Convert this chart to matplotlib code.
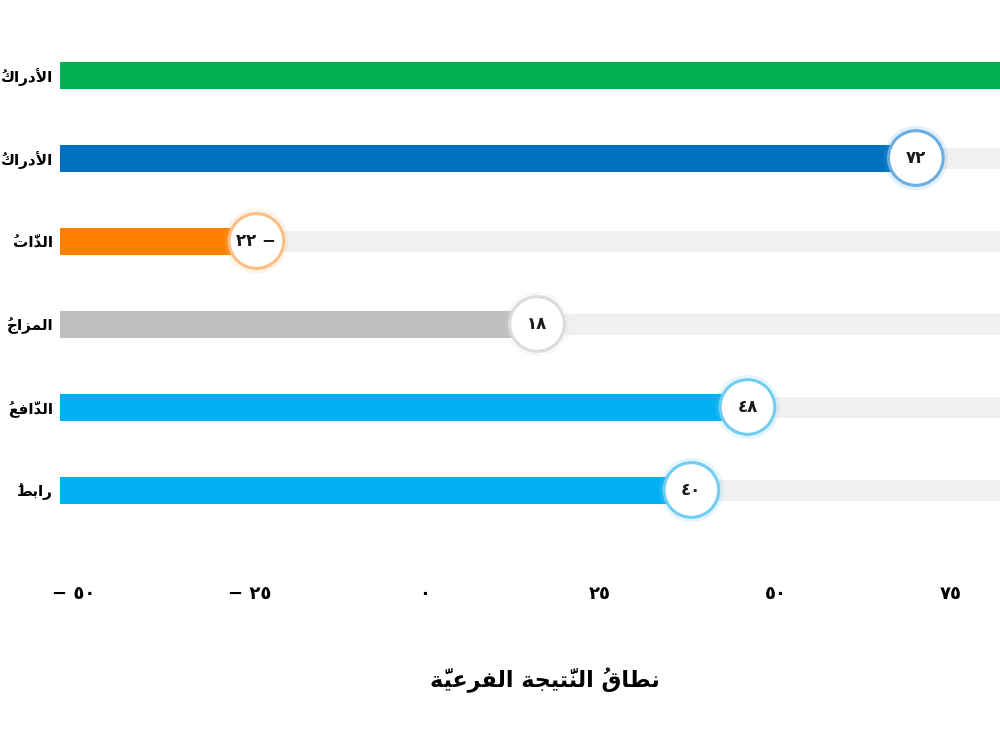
import matplotlib
matplotlib.use('Agg')
import matplotlib.pyplot as plt
import matplotlib.transforms as mtransforms

plt.rcParams['font.family'] = ['DejaVu Sans']

# data (top row first) - only the part of each label that shows in the picture
categories = ['الأدراكُ', 'الأدراكُ', 'الذَّاتُ', 'المزاجُ', 'الدَّافعُ', 'رابطُ']
scores = [100, 72, -22, 18, 48, 40]
bar_colors = ['#00b050', '#0070c0', '#ff8000', '#bfbfbf', '#00b0f0', '#00b0f0']
ring_colors = ['#7fd39f', '#6aaee4', '#fbbf85', '#dcdcdc', '#73cdf3', '#73cdf3']
xticks = [-50, -25, 0, 25, 50, 75]
x_title = 'نطاقُ النَّتيجة الفرعيَّة'
range_min, range_max = -50, 100
view_max = 84

# --- minimal arabic shaping (matplotlib has no bidi / joining) ---
LETTERS = {0x0621: (0xFE80, 1), 0x0622: (0xFE81, 2), 0x0623: (0xFE83, 2), 0x0624: (0xFE85, 2),
           0x0625: (0xFE87, 2), 0x0626: (0xFE89, 4), 0x0627: (0xFE8D, 2), 0x0628: (0xFE8F, 4),
           0x0629: (0xFE93, 2), 0x062A: (0xFE95, 4), 0x062B: (0xFE99, 4), 0x062C: (0xFE9D, 4),
           0x062D: (0xFEA1, 4), 0x062E: (0xFEA5, 4), 0x062F: (0xFEA9, 2), 0x0630: (0xFEAB, 2),
           0x0631: (0xFEAD, 2), 0x0632: (0xFEAF, 2), 0x0633: (0xFEB1, 4), 0x0634: (0xFEB5, 4),
           0x0635: (0xFEB9, 4), 0x0636: (0xFEBD, 4), 0x0637: (0xFEC1, 4), 0x0638: (0xFEC5, 4),
           0x0639: (0xFEC9, 4), 0x063A: (0xFECD, 4), 0x0641: (0xFED1, 4), 0x0642: (0xFED5, 4),
           0x0643: (0xFED9, 4), 0x0644: (0xFEDD, 4), 0x0645: (0xFEE1, 4), 0x0646: (0xFEE5, 4),
           0x0647: (0xFEE9, 4), 0x0648: (0xFEED, 2), 0x0649: (0xFEEF, 2), 0x064A: (0xFEF1, 4)}
LAMALEF = {0x0622: 0xFEF5, 0x0623: 0xFEF7, 0x0625: 0xFEF9, 0x0627: 0xFEFB}


def is_mark(c):
    return 0x064B <= ord(c) <= 0x065F or ord(c) == 0x0670


def nforms(b):
    if isinstance(b, int):
        return 2
    return LETTERS.get(ord(b), (0, 0))[1]


def shape(text):
    clusters = []
    for ch in text:
        if is_mark(ch) and clusters:
            clusters[-1][1].append(ch)
        else:
            clusters.append([ch, []])
    merged = []
    i = 0
    while i < len(clusters):
        b, m = clusters[i]
        if b == 'ل' and i + 1 < len(clusters) and ord(clusters[i + 1][0]) in LAMALEF:
            merged.append([LAMALEF[ord(clusters[i + 1][0])], m + clusters[i + 1][1]])
            i += 2
        else:
            merged.append([b, m])
            i += 1
    out = []
    for i, (b, m) in enumerate(merged):
        n = nforms(b)
        prev_n = nforms(merged[i - 1][0]) if i > 0 else 0
        next_n = nforms(merged[i + 1][0]) if i + 1 < len(merged) else 0
        jp = prev_n == 4 and n > 0
        jn = n == 4 and next_n > 0
        if isinstance(b, int):
            g = chr(b + (1 if jp else 0))
        elif n == 0:
            g = b
        else:
            base = LETTERS[ord(b)][0]
            if jp and jn:
                k = 3
            elif jp:
                k = 1
            elif jn:
                k = 2
            else:
                k = 0
            g = chr(base + min(k, n - 1))
        # zero-width marks go first so they sit over their own letter
        out.append(''.join(m) + g)
    return ''.join(reversed(out))


def ar_num(v):
    return str(abs(v)).translate(str.maketrans('0123456789', '٠١٢٣٤٥٦٧٨٩'))


fig = plt.figure(figsize=(10, 7.5), dpi=100)
ax = fig.add_axes([0.06, 0.24, 0.94, 550 / 750])

rows = list(range(len(categories)))

# grey tracks
ax.barh(rows, [range_max - range_min] * len(rows), left=range_min, height=0.21,
        color='#f0f0f0', edgecolor='#f0f0f0', linewidth=2.2, joinstyle='round', zorder=1)
# score bars
ax.barh(rows, [s - range_min for s in scores], left=range_min, height=0.28,
        color=bar_colors, edgecolor=bar_colors, linewidth=2.2, joinstyle='round', zorder=2)

# value bubbles
ax.scatter(scores, rows, s=2150, color=ring_colors, alpha=0.18, linewidths=0, zorder=3)
ax.scatter(scores, rows, s=1550, facecolor='white', edgecolor=ring_colors, linewidths=2.2, zorder=4)
for s, r in zip(scores, rows):
    if s > view_max:
        continue  # bubble lies outside the visible range
    lbl = ar_num(s) + (' \u2212' if s < 0 else '')
    ax.text(s, r, lbl, ha='center', va='center', fontsize=12, fontweight='bold',
            color='#1a1a1a', zorder=5)

ax.set_xlim(range_min, view_max)
ax.set_ylim(5.964, -0.663)

ax.set_yticks(rows, labels=[shape(c) for c in categories])
ax.tick_params(axis='y', length=0, pad=5, labelsize=11)
for t in ax.get_yticklabels():
    t.set_fontweight('bold')

ax.set_xticks(xticks, labels=[('\u2212 ' if v < 0 else '') + ar_num(v) for v in xticks])
ax.tick_params(axis='x', length=0, pad=11, labelsize=13)
shift = mtransforms.ScaledTranslation(14 / 100, 0, fig.dpi_scale_trans)
for t in ax.get_xticklabels():
    t.set_fontweight('bold')
    t.set_transform(t.get_transform() + shift)

for sp in ax.spines.values():
    sp.set_visible(False)

fig.text(0.545, 1 - 680 / 750, shape(x_title), ha='center', va='center',
         fontsize=16, fontweight='bold')

fig.savefig('out.png', dpi=100)
